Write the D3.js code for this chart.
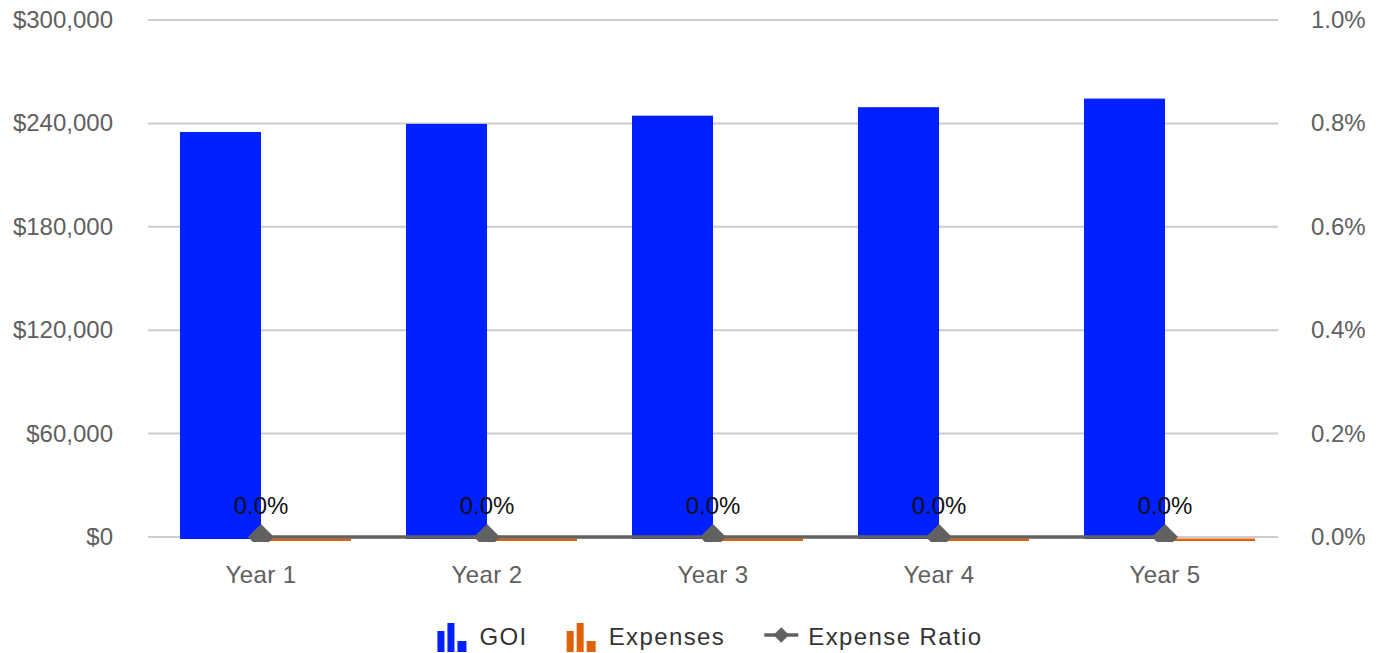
<!DOCTYPE html>
<html>
<head>
<meta charset="utf-8">
<script src="https://cdn.jsdelivr.net/npm/d3@7"></script>
<style>
  html, body { margin: 0; padding: 0; background: #fff; }
  svg { display: block; font-family: "Liberation Sans", Arial, Helvetica, sans-serif; }
</style>
</head>
<body>
<svg id="chart" width="1380" height="653"></svg>
<script>
// ---- data ----
const categories = ["Year 1", "Year 2", "Year 3", "Year 4", "Year 5"];
const goi = [235000, 239700, 244500, 249400, 254400];
const expenses = [0, 0, 0, 0, 0];
const expenseRatio = [0, 0, 0, 0, 0];
const leftTicks = [0, 60000, 120000, 180000, 240000, 300000];
const rightTicks = [0, 0.002, 0.004, 0.006, 0.008, 0.010];
const seriesNames = ["GOI", "Expenses", "Expense Ratio"];

// ---- styles ----
const colors = { GOI: "#0020ff", Expenses: "#df6208", "Expense Ratio": "#616161" };
const axisColor = "#606060";
const gridColor = "#cccccc";
const fontSize = 24;

const svg = d3.select("#chart");
const plot = { left: 148, right: 1278, top: 20, bottom: 537 };

const x = d3.scaleBand().domain(categories).range([plot.left, plot.right]).padding(0);
const x1 = d3.scaleBand().domain(["GOI", "Expenses"]).range([0, 162]).padding(0);
const y = d3.scaleLinear().domain([0, 300000]).range([plot.bottom, plot.top]);
const y2 = d3.scaleLinear().domain([0, 0.01]).range([plot.bottom, plot.top]);

// clip for markers
svg.append("defs").append("clipPath").attr("id", "plotclip")
  .append("rect").attr("x", 0).attr("y", 0).attr("width", 1380).attr("height", plot.bottom + 5);

// gridlines
svg.append("g").selectAll("line").data(leftTicks).join("line")
  .attr("x1", plot.left).attr("x2", plot.right)
  .attr("y1", d => y(d)).attr("y2", d => y(d))
  .attr("stroke", gridColor).attr("stroke-width", 2);

// left axis labels
const fmtMoney = d => "$" + d3.format(",")(d);
svg.append("g").selectAll("text").data(leftTicks).join("text")
  .attr("x", 113).attr("y", d => y(d) + 8)
  .attr("text-anchor", "end").attr("fill", axisColor).attr("font-size", fontSize)
  .text(fmtMoney);

// right axis labels
svg.append("g").selectAll("text").data(rightTicks).join("text")
  .attr("x", 1311).attr("y", d => y2(d) + 8)
  .attr("text-anchor", "start").attr("fill", axisColor).attr("font-size", fontSize)
  .text(d3.format(".1%"));

// x axis labels
svg.append("g").selectAll("text").data(categories).join("text")
  .attr("x", d => x(d) + x.bandwidth() / 2).attr("y", 583)
  .attr("text-anchor", "middle").attr("fill", axisColor).attr("font-size", fontSize)
  .attr("letter-spacing", 0.4)
  .text(d => d);

const groupOffset = (x.bandwidth() - x1.range()[1]) / 2;

// GOI bars
svg.append("g").selectAll("rect").data(categories).join("rect")
  .attr("x", d => x(d) + groupOffset + x1("GOI"))
  .attr("y", (d, i) => y(goi[i]))
  .attr("width", x1.bandwidth())
  .attr("height", (d, i) => y(0) - y(goi[i]) + 2)
  .attr("fill", colors.GOI);

// Expenses bars (zero values drawn as a thin sliver)
svg.append("g").selectAll("rect").data(categories).join("rect")
  .attr("x", d => x(d) + groupOffset + x1("Expenses"))
  .attr("y", (d, i) => y(expenses[i]) + 1.5)
  .attr("width", x1.bandwidth() + 9)
  .attr("height", (d, i) => Math.max(2.5, y(0) - y(expenses[i])))
  .attr("fill", colors.Expenses);

// Expense ratio line
const line = d3.line()
  .x((d, i) => x(categories[i]) + x.bandwidth() / 2)
  .y(d => y2(d));
svg.append("path").datum(expenseRatio)
  .attr("d", line).attr("fill", "none")
  .attr("stroke", colors["Expense Ratio"]).attr("stroke-width", 3.5);

// diamond markers
svg.append("g").attr("clip-path", "url(#plotclip)")
  .selectAll("path").data(expenseRatio).join("path")
  .attr("transform", (d, i) => `translate(${x(categories[i]) + x.bandwidth() / 2},${y2(d)}) rotate(45)`)
  .attr("d", d3.symbol().type(d3.symbolSquare).size(340))
  .attr("fill", colors["Expense Ratio"]);

// data labels
svg.append("g").selectAll("text").data(expenseRatio).join("text")
  .attr("x", (d, i) => x(categories[i]) + x.bandwidth() / 2)
  .attr("y", (d) => y2(d) - 23)
  .attr("text-anchor", "middle").attr("fill", "#111").attr("font-size", fontSize)
  .text(d3.format(".1%"));

// legend
const legend = svg.append("g");
const legendY = 645;
let cursor = 0;
seriesNames.forEach((name, i) => {
  const g = legend.append("g");
  const iconW = i < 2 ? 30 : 34;
  if (i < 2) {
    const bars = [[0, 21], [10, 29], [20, 11]];
    bars.forEach(([bx, h], k) => {
      g.append("rect").attr("x", bx).attr("y", legendY + 7 - h)
        .attr("width", k === 2 ? 9 : 7).attr("height", h)
        .attr("fill", colors[name]);
    });
  } else {
    g.append("line").attr("x1", 0).attr("x2", iconW)
      .attr("y1", legendY - 10).attr("y2", legendY - 10)
      .attr("stroke", colors[name]).attr("stroke-width", 3.5);
    g.append("path")
      .attr("transform", `translate(${iconW / 2},${legendY - 10}) rotate(45)`)
      .attr("d", d3.symbol().type(d3.symbolSquare).size(120))
      .attr("fill", colors[name]);
  }
  const gap = i < 2 ? 12 : 10;
  const t = g.append("text").attr("x", iconW + gap).attr("y", legendY)
    .attr("fill", "#333").attr("font-size", fontSize)
    .attr("letter-spacing", 1.4).text(name);
  const w = iconW + gap + t.node().getComputedTextLength();
  g.attr("transform", `translate(${cursor},0)`);
  cursor += w + 39;
});
const totalW = cursor - 39;
legend.attr("transform", `translate(${710 - totalW / 2},0)`);
</script>
</body>
</html>
